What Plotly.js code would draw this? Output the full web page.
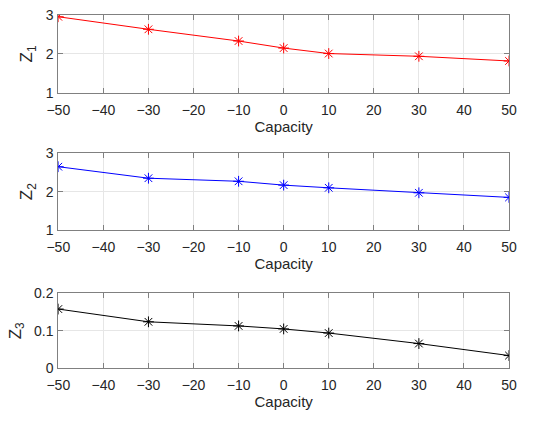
<!DOCTYPE html>
<html><head><meta charset="utf-8">
<script src="https://cdn.plot.ly/plotly-3.0.1.min.js"></script>
<style>html,body{margin:0;padding:0;background:#fff;}#chart{width:550px;height:423px;}</style>
</head><body><div id="chart"></div>
<script>
var capacity = [-50, -30, -10, 0, 10, 30, 50];
var z1 = [2.95, 2.63, 2.33, 2.15, 2.01, 1.94, 1.82];
var z2 = [2.65, 2.35, 2.27, 2.17, 2.10, 1.97, 1.85];
var z3 = [0.158, 0.124, 0.113, 0.105, 0.094, 0.066, 0.034];
var xTicks = [-50, -40, -30, -20, -10, 0, 10, 20, 30, 40, 50];
var xTickText = ['\u221250', '\u221240', '\u221230', '\u221220', '\u221210', '0', '10', '20', '30', '40', '50'];

function tr(y, color, xa, ya) {
  return {x: capacity, y: y, xaxis: xa, yaxis: ya, type: 'scatter', mode: 'lines+markers',
    line: {color: color, width: 1},
    marker: {symbol: 'asterisk-open', size: 9, color: color, line: {color: color, width: 1}}};
}
var data = [tr(z1, '#ff0000', 'x', 'y'), tr(z2, '#0000ff', 'x2', 'y2'), tr(z3, '#000000', 'x3', 'y3')];

var fontC = '#262626';
function xax(anchor) {
  return {domain: [0.106, 0.9255], anchor: anchor, range: [-50, 50], tickvals: xTicks, ticktext: xTickText,
    showline: true, mirror: 'ticks', linecolor: '#808080', linewidth: 1, ticks: 'inside', ticklen: 5, tickcolor: '#808080',
    showgrid: true, gridcolor: '#e6e6e6', zeroline: false, tickfont: {size: 14, color: fontC}, ticklabelstandoff: 4,
    title: {text: 'Capacity', font: {size: 15, color: fontC}, standoff: 4}};
}
function yax(anchor, dom, range, tv, tt, title) {
  return {domain: dom, anchor: anchor, range: range, tickvals: tv, ticktext: tt,
    showline: true, mirror: 'ticks', linecolor: '#808080', linewidth: 1, ticks: 'inside', ticklen: 5, tickcolor: '#808080',
    showgrid: true, gridcolor: '#e6e6e6', zeroline: false, tickfont: {size: 14, color: fontC}, ticklabelstandoff: 1,
    title: {text: title, font: {size: 17, color: fontC}, standoff: 8}};
}
var layout = {
  width: 550, height: 423, margin: {l: 0, r: 0, t: 0, b: 0}, showlegend: false,
  paper_bgcolor: '#fff', plot_bgcolor: '#fff',
  font: {family: 'Liberation Sans, Arial, sans-serif', color: fontC},
  xaxis: xax('y'), xaxis2: xax('y2'), xaxis3: xax('y3'),
  yaxis: yax('x', [0.780, 0.965], [1, 3], [1, 2, 3], ['1', '2', '3'], 'Z<sub>1</sub>'),
  yaxis2: yax('x2', [0.4563, 0.6376], [1, 3], [1, 2, 3], ['1', '2', '3'], 'Z<sub>2</sub>'),
  yaxis3: yax('x3', [0.1293, 0.3066], [0, 0.2], [0, 0.1, 0.2], ['0', '0.1', '0.2'], 'Z<sub>3</sub>')
};
Plotly.newPlot('chart', data, layout, {staticPlot: true});
</script></body></html>
